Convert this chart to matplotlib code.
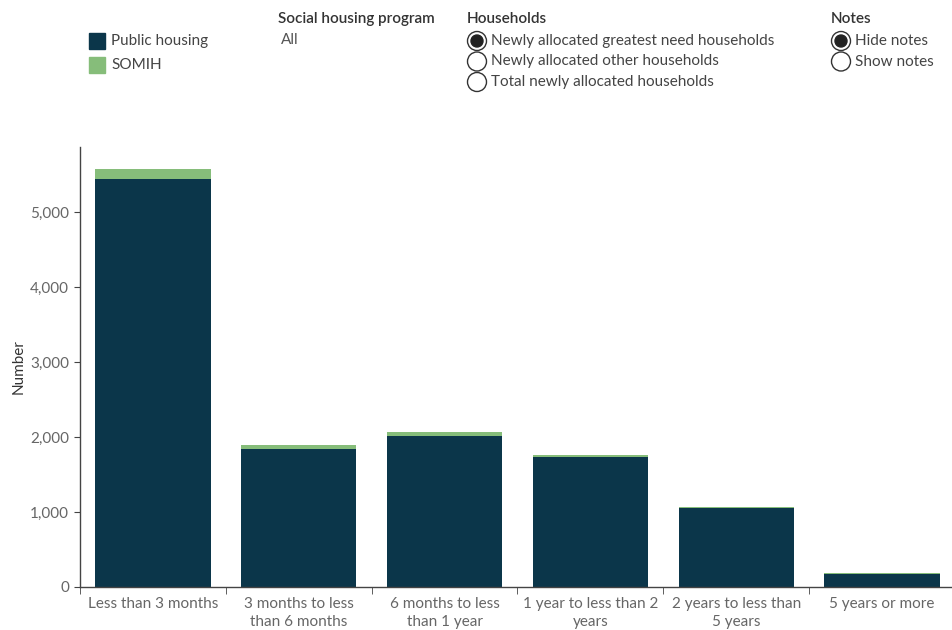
import matplotlib.pyplot as plt
import numpy as np
from matplotlib.patches import Ellipse, Rectangle

# Newly allocated greatest need households by time to allocation
categories = ["Less than 3 months", "3 months to less\nthan 6 months", "6 months to less\nthan 1 year",
              "1 year to less than 2\nyears", "2 years to less than\n5 years", "5 years or more"]
public_housing = [5440, 1845, 2015, 1735, 1050, 170]
somih = [135, 52, 48, 32, 18, 14]

dark = '#0b364a'
green = '#86bd7a'
grey = '#666666'
plt.rcParams['font.family'] = ['Lato', 'DejaVu Sans']

fig = plt.figure(figsize=(9.53, 6.3), dpi=100)
ax = fig.add_axes([80 / 953, 1 - 587 / 630, 875 / 953, 440 / 630])

x = np.arange(len(categories))
ax.bar(x, public_housing, width=0.79, color=dark, zorder=2)
ax.bar(x, somih, width=0.79, bottom=public_housing, color=green, zorder=2)

ax.set_xlim(-0.5, len(categories) - 0.5)
ax.set_ylim(0, 5870)
ax.set_yticks([0, 1000, 2000, 3000, 4000, 5000])
ax.set_yticklabels(['0', '1,000', '2,000', '3,000', '4,000', '5,000'])
ax.set_xticks(x)
ax.set_xticklabels(categories, fontsize=11, color=grey, linespacing=1.35)
ax.set_xticks(np.arange(len(categories) + 1) - 0.5, minor=True)
ax.tick_params(axis='x', which='major', length=0, pad=7)
ax.tick_params(axis='x', which='minor', length=5, color='#444444')
ax.tick_params(axis='y', length=4, color='#444444', labelsize=11, labelcolor=grey, pad=4)
ax.set_ylabel('Number', fontsize=11, color='#333333', labelpad=3)

for side in ['top', 'right']:
    ax.spines[side].set_visible(False)
for side in ['left', 'bottom']:
    ax.spines[side].set_color('#444444')
    ax.spines[side].set_linewidth(1)

# Legend and filter controls across the top
def px(xp, yp):
    return xp / 953, 1 - yp / 630

def radio(xp, yp, selected):
    fig.patches.append(Ellipse(px(xp, yp), 19 / 953, 19 / 630, transform=fig.transFigure,
                               facecolor='white', edgecolor='#333333', linewidth=1))
    if selected:
        fig.patches.append(Ellipse(px(xp, yp), 12 / 953, 12 / 630, transform=fig.transFigure,
                                   color='#222222'))

fig.patches.append(Rectangle(px(89, 49), 16 / 953, 16 / 630, color=dark, transform=fig.transFigure))
fig.patches.append(Rectangle(px(89, 73), 16 / 953, 16 / 630, color=green, transform=fig.transFigure))
fig.text(*px(111, 41), 'Public housing', fontsize=11, color='#444444', va='center')
fig.text(*px(111, 65), 'SOMIH', fontsize=11, color='#444444', va='center')

fig.text(*px(278, 19), 'Social housing program', fontsize=11, color='#333333', va='center', fontweight='semibold')
fig.text(*px(281, 40), 'All', fontsize=11, color='#555555', va='center')

fig.text(*px(467, 19), 'Households', fontsize=11, color='#333333', va='center', fontweight='semibold')
households = ['Newly allocated greatest need households', 'Newly allocated other households',
              'Total newly allocated households']
for i, label in enumerate(households):
    yy = 41 + i * 20.5
    radio(477, yy, i == 0)
    fig.text(*px(491, yy), label, fontsize=11, color='#444444', va='center')

fig.text(*px(831, 19), 'Notes', fontsize=11, color='#333333', va='center', fontweight='semibold')
for i, label in enumerate(['Hide notes', 'Show notes']):
    yy = 41 + i * 20.5
    radio(841, yy, i == 0)
    fig.text(*px(855, yy), label, fontsize=11, color='#444444', va='center')

fig.savefig('out.png', dpi=100)
